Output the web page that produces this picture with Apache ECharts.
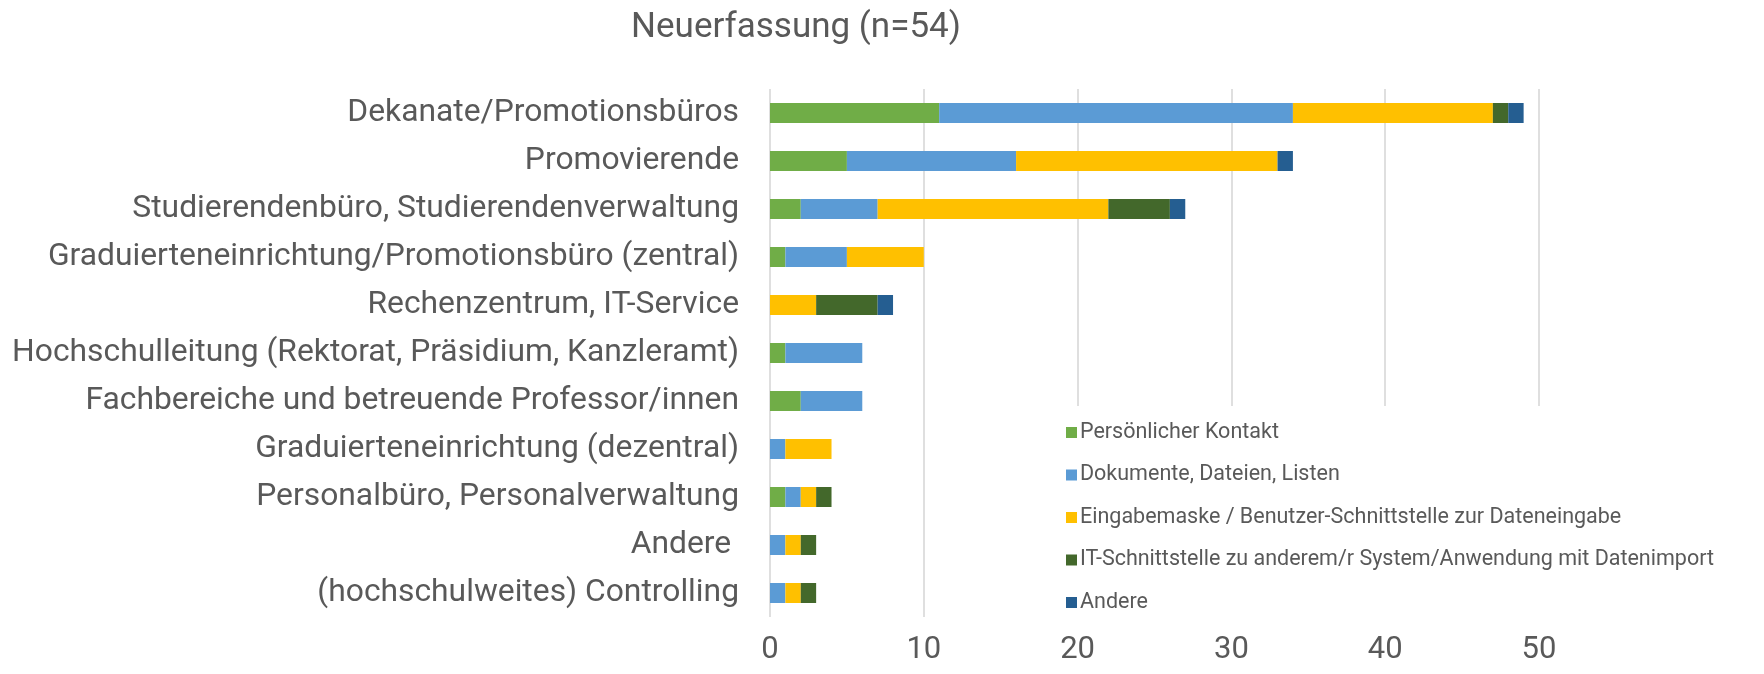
<!DOCTYPE html>
<html>
<head>
<meta charset="utf-8">
<title>Neuerfassung</title>
<script src="https://cdn.jsdelivr.net/npm/echarts@6/dist/echarts.min.js"></script>
<style>
  html, body { margin: 0; padding: 0; background: #fff; }
  #chart { width: 1764px; height: 674px; }
</style>
</head>
<body>
<div id="chart"></div>
<script>
// Kategorien von oben nach unten
const categories = [
  'Dekanate/Promotionsbüros',
  'Promovierende',
  'Studierendenbüro, Studierendenverwaltung',
  'Graduierteneinrichtung/Promotionsbüro (zentral)',
  'Rechenzentrum, IT-Service',
  'Hochschulleitung (Rektorat, Präsidium, Kanzleramt)',
  'Fachbereiche und betreuende Professor/innen',
  'Graduierteneinrichtung (dezentral)',
  'Personalbüro, Personalverwaltung',
  'Andere ',
  '(hochschulweites) Controlling'
]

const seriesNames = [
  'Persönlicher Kontakt',
  'Dokumente, Dateien, Listen',
  'Eingabemaske / Benutzer-Schnittstelle zur Dateneingabe',
  'IT-Schnittstelle zu anderem/r System/Anwendung mit Datenimport',
  'Andere'
]

const persoenlich = [11, 5, 2, 1, 0, 1, 2, 0, 1, 0, 0]
const dokumente = [23, 11, 5, 4, 0, 5, 4, 1, 1, 1, 1]
const eingabemaske = [13, 17, 15, 5, 3, 0, 0, 3, 1, 1, 1]
const itSchnittstelle = [1, 0, 4, 0, 4, 0, 0, 0, 1, 1, 1]
const andere = [1, 1, 1, 0, 1, 0, 0, 0, 0, 0, 0]

const xTicks = [0, 10, 20, 30, 40, 50]

const colors = ['#70AD47', '#5B9BD5', '#FFC000', '#43682B', '#255E91']
const values = [persoenlich, dokumente, eingabemaske, itSchnittstelle, andere]

const chart = echarts.init(document.getElementById('chart'))

const option = {
  animation: false,
  color: colors,
  textStyle: { fontFamily: 'Roboto' },
  title: {
    text: 'Neuerfassung (n=54)',
    left: 791,
    top: 6,
    textAlign: 'center',
    textStyle: { fontSize: 35, fontWeight: 'normal', color: '#595959', fontFamily: 'Roboto' }
  },
  legend: {
    orient: 'vertical',
    left: 1062,
    top: 406,
    padding: [14, 10, 4, 4],
    backgroundColor: '#fff',
    itemWidth: 11,
    itemHeight: 11,
    itemGap: 17.5,
    icon: 'rect',
    data: seriesNames,
    textStyle: { fontSize: 21.5, color: '#595959', lineHeight: 25, padding: [0, 0, 0, -2] }
  },
  grid: {
    left: 770,
    right: 225,
    top: 89,
    bottom: 57,
    containLabel: false
  },
  xAxis: {
    type: 'value',
    min: xTicks[0],
    max: xTicks[xTicks.length - 1],
    interval: 10,
    axisLine: { show: false },
    axisTick: { show: false },
    axisLabel: { fontSize: 31, color: '#595959', margin: 18 },
    splitLine: { lineStyle: { color: '#d4d4d4', width: 1.5 } }
  },
  yAxis: {
    type: 'category',
    inverse: true,
    data: categories,
    axisLine: { show: false },
    axisTick: { show: false },
    axisLabel: { fontSize: 31.8, color: '#595959', margin: 31 }
  },
  series: seriesNames.map((name, i) => ({
    name: name,
    type: 'bar',
    stack: 'total',
    barWidth: 20,
    data: values[i],
    itemStyle: { color: colors[i] }
  }))
}

chart.setOption(option)
</script>
</body>
</html>
